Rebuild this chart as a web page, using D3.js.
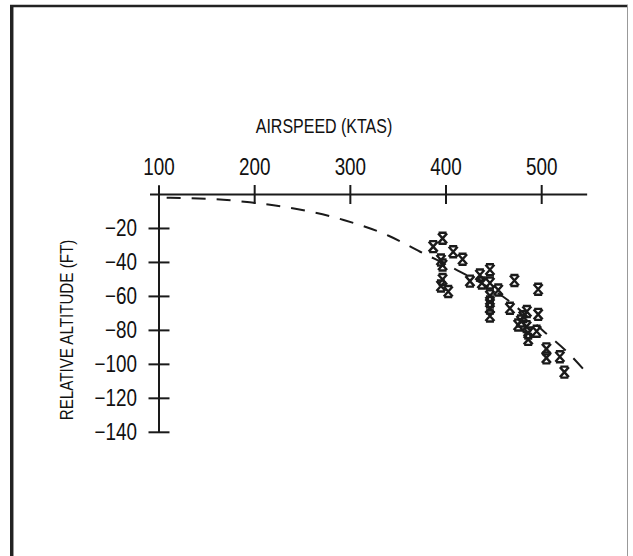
<!DOCTYPE html>
<html>
<head>
<meta charset="utf-8">
<script src="https://cdn.jsdelivr.net/npm/d3@7/dist/d3.min.js"></script>
<style>
  html, body { margin: 0; padding: 0; background: #fff; }
  svg { display: block; }
  text { font-family: "Liberation Sans", Arial, sans-serif; fill: #111; }
</style>
</head>
<body>
<svg id="chart" width="633" height="556"></svg>
<script>
// ---- data ----
const xTicks = [100, 200, 300, 400, 500];
const yTicks = [-20, -40, -60, -80, -100, -120, -140];
const xTitle = "AIRSPEED (KTAS)";
const yTitle = "RELATIVE ALTITUDE (FT)";

// measured flight points (KTAS, relative altitude ft)
const obsSpeed = [386.6, 396.4, 407.5, 417.3, 394.7, 396.4, 396.4, 394.7, 402.3, 425.0,
                  435.4, 445.9, 445.9, 454.6, 445.9, 445.9, 445.9, 445.9, 471.5, 496.3,
                  466.8, 484.5, 496.3, 480.7, 475.4, 484.2, 494.7, 485.9, 485.9, 504.9,
                  504.9, 519.0, 523.7, 437.5, 478.3];
const obsAlt   = [-30.7, -25.8, -33.7, -38.1, -38.6, -41.5, -50.0, -53.9, -57.1, -51.0,
                  -47.4, -44.3, -52.1, -56.2, -59.7, -63.3, -66.8, -71.5, -50.6, -55.8,
                  -67.0, -68.9, -70.6, -71.9, -76.8, -77.8, -80.5, -81.5, -85.3, -90.9,
                  -96.2, -95.5, -104.6, -52.1, -74.5];

// predicted curve (dashed)
const curveSpeed = [108, 160, 195, 244, 293, 340, 373, 416, 463, 504, 525, 548];
const curveAlt   = [-1.9, -2.8, -4.6, -8.5, -15.0, -24.3, -33.7, -45.8, -61.5, -81.5, -91.8, -105.6];

// axis extents (data units)
const xAxisExtent = [90.6, 547.5];
const yAxisExtent = [5.5, -140];

// ---- drawing ----
const svg = d3.select("#chart");
const ink = "#1a1a1a";
const narrow = 0.82;

// frame
svg.append("line").attr("x1", 11.5).attr("x2", 11.5).attr("y1", 5).attr("y2", 556)
  .attr("stroke", "#222").attr("stroke-width", 3);
svg.append("line").attr("x1", 13.5).attr("x2", 13.5).attr("y1", 7).attr("y2", 556)
  .attr("stroke", "#999").attr("stroke-width", 1);
svg.append("line").attr("x1", 10).attr("x2", 628).attr("y1", 6).attr("y2", 6)
  .attr("stroke", "#222").attr("stroke-width", 2.5);
svg.append("line").attr("x1", 627.5).attr("x2", 627.5).attr("y1", 5).attr("y2", 556)
  .attr("stroke", "#999").attr("stroke-width", 1);

const x = d3.scaleLinear().domain([100, 500]).range([159, 541.7]);
const y = d3.scaleLinear().domain([0, -140]).range([194.5, 432.3]);

const g = svg.append("g");

function label(parent, tx, ty, str, size, anchor, rot) {
  const t = parent.append("g")
    .attr("transform", `translate(${tx},${ty})` + (rot ? ` rotate(${rot})` : "") + ` scale(${narrow},1)`);
  t.append("text").attr("x", 0).attr("y", 0)
    .attr("text-anchor", anchor).attr("font-size", size).text(str);
  return t;
}

// x axis line
g.append("line")
  .attr("x1", x(xAxisExtent[0])).attr("x2", x(xAxisExtent[1]))
  .attr("y1", y(0)).attr("y2", y(0))
  .attr("stroke", ink).attr("stroke-width", 2);
// y axis line
g.append("line")
  .attr("x1", x(100)).attr("x2", x(100))
  .attr("y1", y(yAxisExtent[0])).attr("y2", y(yAxisExtent[1]))
  .attr("stroke", ink).attr("stroke-width", 2);

// x ticks
g.selectAll(".xt").data(xTicks.filter(d => d !== 100)).enter().append("line")
  .attr("x1", d => x(d)).attr("x2", d => x(d))
  .attr("y1", y(0) - 9.5).attr("y2", y(0) + 9.5)
  .attr("stroke", ink).attr("stroke-width", 2);
xTicks.forEach(d => label(g, x(d), y(0) - 20, String(d), 23, "middle"));

// y ticks
g.selectAll(".yt").data(yTicks).enter().append("line")
  .attr("x1", x(100) - 10.5).attr("x2", x(100) + 10.5)
  .attr("y1", d => y(d)).attr("y2", d => y(d))
  .attr("stroke", ink).attr("stroke-width", 2);
yTicks.forEach(d => label(g, x(100) - 22, y(d) + 8, "\u2212" + Math.abs(d), 23, "end"));

// titles
label(g, 324, 133, xTitle, 19.5, "middle");
label(g, 73, 330, yTitle, 18.5, "middle", -90);

// dashed curve
const curveData = curveSpeed.map((s, i) => [s, curveAlt[i]]);
g.append("path")
  .datum(curveData)
  .attr("d", d3.line().x(d => x(d[0])).y(d => y(d[1])).curve(d3.curveMonotoneX))
  .attr("fill", "none").attr("stroke", ink).attr("stroke-width", 2)
  .attr("stroke-dasharray", "14,11");

// markers
const obs = obsSpeed.map((s, i) => [s, obsAlt[i]]);
const markerPath = "M-4.5,-5L4.5,5M4.5,-5L-4.5,5M-4,-5.5H4M-4,5.5H4";
g.selectAll(".m").data(obs).enter().append("path")
  .attr("transform", d => `translate(${x(d[0])},${y(d[1])})`)
  .attr("d", markerPath)
  .attr("fill", "none").attr("stroke", ink).attr("stroke-width", 2.4);
</script>
</body>
</html>
